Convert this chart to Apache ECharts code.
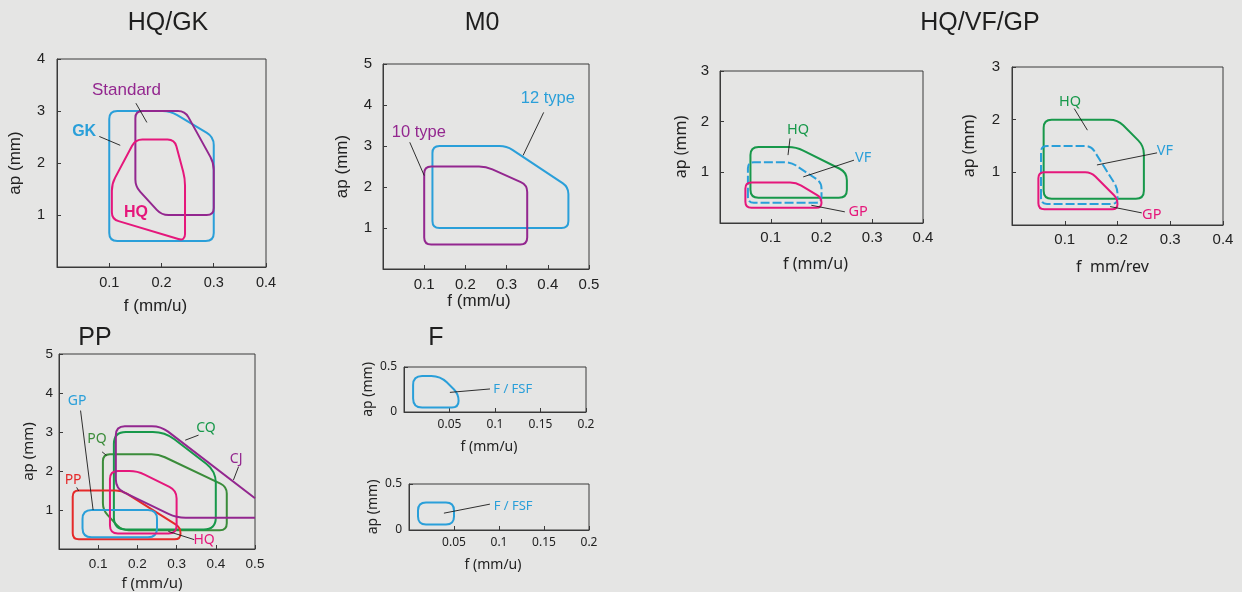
<!DOCTYPE html>
<html>
<head>
<meta charset="utf-8">
<title>Cutting ranges f / ap</title>
<script src="https://cdn.jsdelivr.net/npm/echarts@6/dist/echarts.min.js"></script>
<style>
  html, body { margin: 0; padding: 0; background: #e5e5e4; }
  #chart { width: 1242px; height: 592px; }
</style>
</head>
<body>
<div id="chart"></div>
<script>
// Working ranges as outlines in (f [mm/u], ap [mm]) space.

// HQ/GK
const HQGK_GK       = [[0.1, 0.5], [0.1, 3.0], [0.217, 3.0], [0.3, 2.5], [0.3, 0.5]];
const HQGK_STANDARD = [[0.15, 1.55], [0.15, 3.0], [0.245, 3.0], [0.3, 2.0], [0.3, 1.0], [0.2, 1.0]];
const HQGK_HQ       = [[0.105, 0.92], [0.105, 1.6], [0.15, 2.45], [0.225, 2.45], [0.245, 1.7], [0.245, 0.5]];

// M0
const M0_12TYPE = [[0.12, 1.0], [0.12, 3.0], [0.3, 3.0], [0.45, 2.0], [0.45, 1.0]];
const M0_10TYPE = [[0.1, 0.6], [0.1, 2.5], [0.25, 2.5], [0.35, 2.05], [0.35, 0.6]];

// HQ/VF/GP (left)
const VFA_HQ = [[0.06, 0.5], [0.06, 1.5], [0.15, 1.5], [0.25, 1.0], [0.25, 0.5]];
const VFA_VF = [[0.055, 0.4], [0.055, 1.2], [0.14, 1.2], [0.2, 0.8], [0.2, 0.4]];
const VFA_GP = [[0.05, 0.3], [0.05, 0.8], [0.15, 0.8], [0.2, 0.5], [0.2, 0.3]];

// HQ/VF/GP (right)
const VFB_HQ = [[0.06, 0.5], [0.06, 2.0], [0.2, 2.0], [0.25, 1.5], [0.25, 0.5]];
const VFB_VF = [[0.055, 0.4], [0.055, 1.5], [0.15, 1.5], [0.2, 0.7], [0.2, 0.4]];
const VFB_GP = [[0.05, 0.3], [0.05, 1.0], [0.15, 1.0], [0.2, 0.5], [0.2, 0.3]];

// PP
const PP_PP = [[0.035, 0.25], [0.035, 1.5], [0.16, 1.5], [0.31, 0.55], [0.31, 0.25]];
const PP_GP = [[0.06, 0.3], [0.06, 1.0], [0.25, 1.0], [0.25, 0.3]];
const PP_HQ = [[0.13, 0.4], [0.13, 2.0], [0.2, 2.0], [0.3, 1.5], [0.3, 0.4]];
const PP_PQ = [[0.112, 1.0], [0.112, 2.43], [0.254, 2.43], [0.428, 1.6], [0.428, 0.48], [0.16, 0.48]];
const PP_CQ = [[0.14, 0.5], [0.14, 3.0], [0.27, 3.0], [0.4, 2.0], [0.4, 0.5]];
const PP_CJ = [[0.5, 1.3], [0.26, 3.15], [0.145, 3.15], [0.145, 1.55], [0.3, 0.8], [0.5, 0.8]];

// F
const F1_FSF = [[0.01, 0.05], [0.01, 0.4], [0.04, 0.4], [0.06, 0.2], [0.06, 0.05]];
const F2_FSF = [[0.01, 0.06], [0.01, 0.3], [0.05, 0.3], [0.05, 0.06]];

// Axis extents: [min, max, interval]
const AX_HQGK = { x: [0, 0.4, 0.1], y: [0, 4, 1] };
const AX_M0   = { x: [0, 0.5, 0.1], y: [0, 5, 1] };
const AX_VF   = { x: [0, 0.4, 0.1], y: [0, 3, 1] };
const AX_PP   = { x: [0, 0.5, 0.1], y: [0, 5, 1] };
const AX_F    = { x: [0, 0.2, 0.05], y: [0, 0.5, 0.5] };

// ---- styling ----
const BLUE = '#2a9fd9', PURPLE = '#93278f', PINK = '#e5177b', GREEN = '#17984a',
      DKGREEN = '#3b8c3a', RED = '#e52a2a', INK = '#222222', FRAME = '#3a3a3a';
const HELV = '"Liberation Sans", Arial, sans-serif';
const MYR = '"Noto Sans", "Open Sans", sans-serif';

const panels = [
  { grid: { left: 57, top: 59, width: 209, height: 208 }, ax: AX_HQGK,
    xName: 'f (mm/u)', yName: 'ap (mm)', labFont: HELV, labSize: 14.5, nameFont: HELV, nameSize: 17,
    xMargin: 8, yMargin: 12, xGap: 31, yGap: 33, xShift: -6, yZero: false,
    shapes: [
      { pts: HQGK_GK, color: BLUE, r: 8 },
      { pts: HQGK_STANDARD, color: PURPLE, r: 7 },
      { pts: HQGK_HQ, color: PINK, r: 7 }
    ],
    notes: [
      { text: 'Standard', at: [0.133, 3.39], line: [[0.151, 3.15], [0.172, 2.78]], color: PURPLE, size: 17, font: HELV },
      { text: 'GK', at: [0.052, 2.6], line: [[0.081, 2.51], [0.121, 2.34]], color: BLUE, size: 16, font: HELV, bold: true },
      { text: 'HQ', at: [0.151, 1.05], color: PINK, size: 16, font: HELV, bold: true }
    ] },
  { grid: { left: 383, top: 64, width: 206, height: 205 }, ax: AX_M0,
    xName: 'f (mm/u)', yName: 'ap (mm)', labFont: HELV, labSize: 15, nameFont: HELV, nameSize: 17,
    xMargin: 8, yMargin: 11, xGap: 23, yGap: 32, xShift: -7, yZero: false,
    shapes: [
      { pts: M0_12TYPE, color: BLUE, r: 7 },
      { pts: M0_10TYPE, color: PURPLE, r: 7 }
    ],
    notes: [
      { text: '12 type', at: [0.40, 4.17], line: [[0.39, 3.82], [0.34, 2.77]], color: BLUE, size: 16.5, font: HELV },
      { text: '10 type', at: [0.087, 3.33], line: [[0.065, 3.09], [0.1, 2.28]], color: PURPLE, size: 16.5, font: HELV }
    ] },
  { grid: { left: 720, top: 71, width: 203, height: 152 }, ax: AX_VF,
    xName: 'f (mm/u)', yName: 'ap (mm)', labFont: HELV, labSize: 15, nameFont: MYR, nameSize: 16,
    xMargin: 7, yMargin: 11, xGap: 33, yGap: 31, xShift: -6, yZero: false,
    shapes: [
      { pts: VFA_HQ, color: GREEN, r: 8 },
      { pts: VFA_VF, color: BLUE, r: 6, dash: [9, 3] },
      { pts: VFA_GP, color: PINK, r: 6 }
    ],
    notes: [
      { text: 'HQ', at: [0.154, 1.83], line: [[0.138, 1.67], [0.134, 1.34]], color: GREEN, size: 14.5, font: MYR },
      { text: 'VF', at: [0.282, 1.29], line: [[0.264, 1.24], [0.164, 0.91]], color: BLUE, size: 14.5, font: MYR },
      { text: 'GP', at: [0.272, 0.22], line: [[0.246, 0.22], [0.18, 0.35]], color: PINK, size: 14.5, font: MYR }
    ] },
  { grid: { left: 1012, top: 67, width: 211, height: 158 }, ax: AX_VF,
    xName: 'f  mm/rev', yName: 'ap (mm)', labFont: HELV, labSize: 15, nameFont: MYR, nameSize: 16,
    xMargin: 7, yMargin: 12, xGap: 34, yGap: 35, xShift: -5, yZero: false,
    shapes: [
      { pts: VFB_HQ, color: GREEN, r: 8 },
      { pts: VFB_VF, color: BLUE, r: 6, dash: [9, 3] },
      { pts: VFB_GP, color: PINK, r: 6 }
    ],
    notes: [
      { text: 'HQ', at: [0.11, 2.34], line: [[0.118, 2.21], [0.143, 1.80]], color: GREEN, size: 14.5, font: MYR },
      { text: 'VF', at: [0.29, 1.40], line: [[0.275, 1.37], [0.161, 1.14]], color: BLUE, size: 14.5, font: MYR },
      { text: 'GP', at: [0.265, 0.19], line: [[0.246, 0.23], [0.186, 0.35]], color: PINK, size: 14.5, font: MYR }
    ] },
  { grid: { left: 59, top: 354, width: 196, height: 197 }, ax: AX_PP,
    xName: 'f (mm/u)', yName: 'ap (mm)', labFont: HELV, labSize: 13.5, nameFont: MYR, nameSize: 15,
    xMargin: 8, yMargin: 6, xGap: 27, yGap: 23, xShift: -5, yZero: false,
    shapes: [
      { pts: PP_PQ, color: DKGREEN, r: 7 },
      { pts: PP_CQ, color: GREEN, r: 12 },
      { pts: PP_PP, color: RED, r: 6 },
      { pts: PP_GP, color: BLUE, r: 9 },
      { pts: PP_HQ, color: PINK, r: 8 },
      { pts: PP_CJ, color: PURPLE, r: 9, open: true }
    ],
    notes: [
      { text: 'GP', at: [0.046, 3.8], line: [[0.055, 3.55], [0.087, 1.0]], color: BLUE, size: 14, font: MYR },
      { text: 'PQ', at: [0.097, 2.83], line: [[0.11, 2.49], [0.121, 2.4]], color: DKGREEN, size: 14, font: MYR },
      { text: 'PP', at: [0.036, 1.77], line: [[0.045, 1.58], [0.05, 1.49]], color: RED, size: 14, font: MYR },
      { text: 'CQ', at: [0.375, 3.1], line: [[0.356, 2.92], [0.322, 2.79]], color: GREEN, size: 14, font: MYR },
      { text: 'CJ', at: [0.452, 2.32], line: [[0.458, 2.11], [0.445, 1.77]], color: PURPLE, size: 14, font: MYR },
      { text: 'HQ', at: [0.37, 0.24], line: [[0.345, 0.24], [0.279, 0.45]], color: PINK, size: 14, font: MYR }
    ] },
  { grid: { left: 404, top: 367, width: 182, height: 45 }, ax: AX_F,
    xName: 'f (mm/u)', yName: 'ap (mm)', labFont: MYR, labSize: 12, nameFont: MYR, nameSize: 14,
    xMargin: 7, yMargin: 7, xGap: 28, yGap: 29, xShift: -6, yZero: true,
    shapes: [ { pts: F1_FSF, color: BLUE, r: 9 } ],
    notes: [
      { text: 'F / FSF', at: [0.1195, 0.256], line: [[0.0945, 0.256], [0.0504, 0.218]], color: BLUE, size: 13, font: MYR }
    ] },
  { grid: { left: 409, top: 484, width: 180, height: 46 }, ax: AX_F,
    xName: 'f (mm/u)', yName: 'ap (mm)', labFont: MYR, labSize: 12, nameFont: MYR, nameSize: 14,
    xMargin: 7, yMargin: 7, xGap: 28, yGap: 29, xShift: -6, yZero: true,
    shapes: [ { pts: F2_FSF, color: BLUE, r: 8 } ],
    notes: [
      { text: 'F / FSF', at: [0.1157, 0.255], line: [[0.0899, 0.281], [0.0388, 0.183]], color: BLUE, size: 13, font: MYR }
    ] }
];

// Outline through pixel points with corners rounded by quadratic curves.
function roundedPath(pts, r, open) {
  const n = pts.length;
  const corner = (i) => {
    const p = pts[i], a = pts[(i - 1 + n) % n], b = pts[(i + 1) % n];
    const la = Math.hypot(a[0] - p[0], a[1] - p[1]) || 1;
    const lb = Math.hypot(b[0] - p[0], b[1] - p[1]) || 1;
    const rr = Math.min(r, la / 2, lb / 2);
    return {
      s: [p[0] + (a[0] - p[0]) * rr / la, p[1] + (a[1] - p[1]) * rr / la],
      p: p,
      e: [p[0] + (b[0] - p[0]) * rr / lb, p[1] + (b[1] - p[1]) * rr / lb]
    };
  };
  const seg = (c) => 'L' + c.s[0] + ',' + c.s[1] + 'Q' + c.p[0] + ',' + c.p[1] + ',' + c.e[0] + ',' + c.e[1];
  let d;
  if (open) {
    d = 'M' + pts[0][0] + ',' + pts[0][1];
    for (let i = 1; i < n - 1; i++) d += seg(corner(i));
    d += 'L' + pts[n - 1][0] + ',' + pts[n - 1][1];
  } else {
    const c0 = corner(0);
    d = 'M' + c0.e[0] + ',' + c0.e[1];
    for (let i = 1; i <= n; i++) d += seg(corner(i % n));
    d += 'Z';
  }
  return d;
}

const grids = [], xAxes = [], yAxes = [], series = [];
const frame = { lineStyle: { color: FRAME, width: 1 } };

panels.forEach((pn, k) => {
  grids.push(Object.assign({ show: true, borderColor: FRAME, borderWidth: 1, backgroundColor: 'transparent' }, pn.grid));
  xAxes.push({
    type: 'value', gridIndex: k, min: pn.ax.x[0], max: pn.ax.x[1], interval: pn.ax.x[2],
    splitLine: { show: false }, axisLine: Object.assign({ show: true }, frame),
    axisTick: { show: true, inside: true, length: 4, lineStyle: { color: FRAME } },
    axisLabel: { showMinLabel: false, margin: pn.xMargin, color: INK, fontFamily: pn.labFont, fontSize: pn.labSize },
    name: pn.xName, nameLocation: 'middle', nameGap: pn.xGap,
    nameTextStyle: { color: INK, fontFamily: pn.nameFont, fontSize: pn.nameSize,
      padding: pn.xShift < 0 ? [0, -2 * pn.xShift, 0, 0] : [0, 0, 0, 2 * pn.xShift] }
  });
  yAxes.push({
    type: 'value', gridIndex: k, min: pn.ax.y[0], max: pn.ax.y[1], interval: pn.ax.y[2],
    splitLine: { show: false }, axisLine: Object.assign({ show: true }, frame),
    axisTick: { show: true, inside: true, length: 4, lineStyle: { color: FRAME } },
    axisLabel: { showMinLabel: pn.yZero, margin: pn.yMargin, color: INK, fontFamily: pn.labFont, fontSize: pn.labSize },
    name: pn.yName, nameLocation: 'middle', nameGap: pn.yGap,
    nameTextStyle: { color: INK, fontFamily: pn.nameFont, fontSize: pn.nameSize }
  });

  // outlines
  series.push({
    type: 'custom', xAxisIndex: k, yAxisIndex: k, silent: true,
    data: pn.shapes.map((s, i) => [s.pts[0][0], s.pts[0][1], i]),
    renderItem: (params, api) => {
      const s = pn.shapes[params.dataIndex];
      const px = s.pts.map(p => api.coord(p));
      return {
        type: 'path',
        shape: { pathData: roundedPath(px, s.r, s.open) },
        style: { stroke: s.color, lineWidth: 2, fill: 'none', lineDash: s.dash || null, lineJoin: 'round' }
      };
    }
  });

  // labels with leader lines
  series.push({
    type: 'custom', xAxisIndex: k, yAxisIndex: k, silent: true, z: 5,
    data: pn.notes.map((nt, i) => [nt.at[0], nt.at[1], i]),
    renderItem: (params, api) => {
      const nt = pn.notes[params.dataIndex];
      const at = api.coord(nt.at);
      const children = [];
      if (nt.line) {
        const a = api.coord(nt.line[0]), b = api.coord(nt.line[1]);
        children.push({ type: 'line', shape: { x1: a[0], y1: a[1], x2: b[0], y2: b[1] },
          style: { stroke: '#1a1a1a', lineWidth: 0.9 } });
      }
      children.push({ type: 'text', x: at[0], y: at[1],
        style: { text: nt.text, fill: nt.color, fontSize: nt.size, fontFamily: nt.font,
          fontWeight: nt.bold ? 'bold' : 'normal', align: 'center', verticalAlign: 'middle' } });
      return { type: 'group', children: children };
    }
  });
});

const titleStyle = { color: '#1e1e1e', fontFamily: HELV, fontSize: 25, fontWeight: 'normal' };
const titles = [
  { text: 'HQ/GK', left: 168, top: 11, textAlign: 'center' },
  { text: 'M0', left: 482, top: 11, textAlign: 'center' },
  { text: 'HQ/VF/GP', left: 980, top: 11, textAlign: 'center' },
  { text: 'PP', left: 95, top: 326, textAlign: 'center' },
  { text: 'F', left: 436, top: 326, textAlign: 'center' }
].map(t => Object.assign({ padding: 0, textStyle: titleStyle }, t));

const chart = echarts.init(document.getElementById('chart'), null, { renderer: 'canvas' });
chart.setOption({
  backgroundColor: '#e5e5e4',
  animation: false,
  title: titles,
  grid: grids,
  xAxis: xAxes,
  yAxis: yAxes,
  series: series
});
</script>
</body>
</html>
